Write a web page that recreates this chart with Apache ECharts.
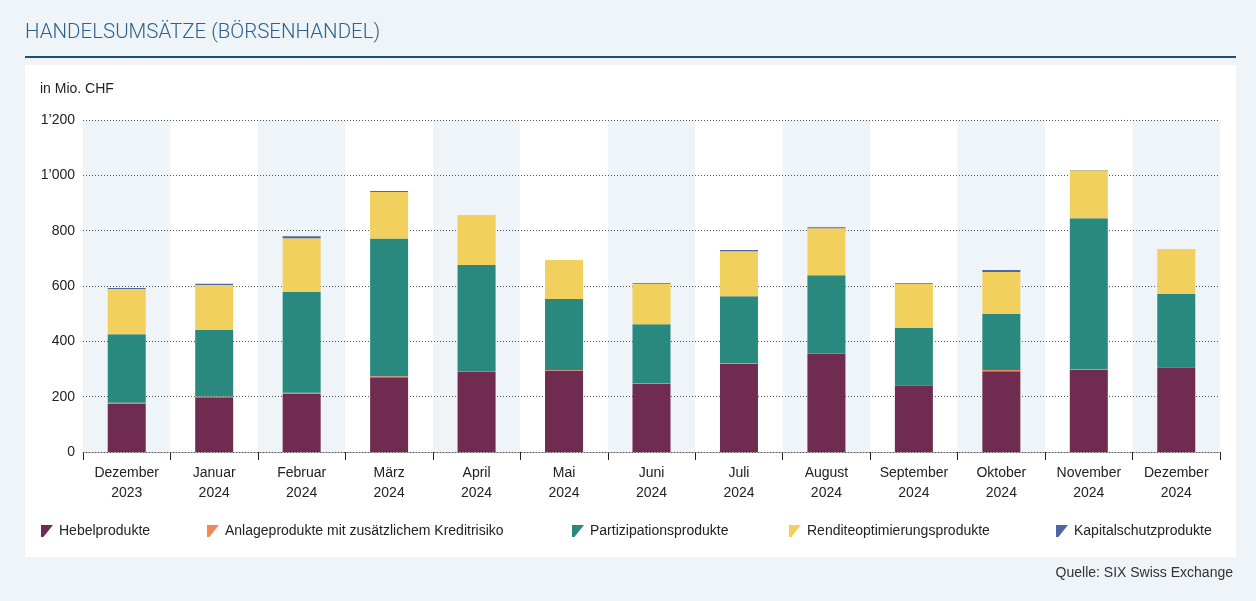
<!DOCTYPE html>
<html>
<head>
<meta charset="utf-8">
<script src="https://cdn.jsdelivr.net/npm/echarts@6/dist/echarts.min.js"></script>
<style>
  html, body { margin: 0; padding: 0; background: #eef4f7; }
  #chart { width: 1256px; height: 601px; }
</style>
</head>
<body>
<div id="chart"></div>
<script>
// Monate
const months = ['Dezember\n2023', 'Januar\n2024', 'Februar\n2024', 'März\n2024', 'April\n2024', 'Mai\n2024',
  'Juni\n2024', 'Juli\n2024', 'August\n2024', 'September\n2024', 'Oktober\n2024', 'November\n2024', 'Dezember\n2024'];

// Umsätze in Mio. CHF (aus dem Bild geschätzt)
const hebel = [175, 198, 210, 270, 291, 295, 248, 318, 354, 241, 292, 296, 306];
const anlage = [3, 3, 4, 4, 1, 1, 1, 3, 1, 1, 4, 3, 1];
const partizipation = [248, 240, 364, 498, 384, 257, 213, 242, 284, 206, 203, 546, 264];
const rendite = [163, 163, 195, 168, 177, 141, 145, 163, 170, 159, 152, 173, 159];
const kapital = [4, 4, 7, 3, 1, 0, 3, 4, 3, 3, 7, 1, 1];

const yTicks = [0, 200, 400, 600, 800, 1000, 1200];

const names = ['Hebelprodukte', 'Anlageprodukte mit zusätzlichem Kreditrisiko', 'Partizipationsprodukte',
  'Renditeoptimierungsprodukte', 'Kapitalschutzprodukte'];
const colors = ['#6f2b50', '#f0895a', '#2a897e', '#f2d05d', '#4d66a5'];
const legendX = [41, 207, 572, 789, 1056];

const font = '"Liberation Sans", Arial, sans-serif';
const icon = 'path://M0,0 L10,0 L2,10 L0,10 Z';

const fmt = v => String(v).replace(/\B(?=(\d{3})+(?!\d))/g, '\u2019');

const chart = echarts.init(document.getElementById('chart'));

const seriesData = [hebel, anlage, partizipation, rendite, kapital];

chart.setOption({
  backgroundColor: '#eef4f7',
  animation: false,
  color: colors,
  graphic: [
    { type: 'rect', left: 25, top: 65, shape: { width: 1211, height: 492 }, style: { fill: '#ffffff' }, z: -10 },
    { type: 'rect', left: 25, top: 56, shape: { width: 1211, height: 2 }, style: { fill: '#1d4f7c' } },
    { type: 'text', left: 25, top: 22, style: { text: 'HANDELSUMSÄTZE (BÖRSENHANDEL)', fill: '#2f6190',
      font: '300 20.5px Roboto, "Liberation Sans", sans-serif' } },
    { type: 'text', left: 40, top: 82, style: { text: 'in Mio. CHF', fill: '#222', font: '14px ' + font } },
    { type: 'text', right: 23, top: 566, style: { text: 'Quelle: SIX Swiss Exchange', fill: '#333', font: '14px ' + font } }
  ],
  legend: names.map((n, i) => ({
    data: [n],
    left: legendX[i],
    top: 524,
    padding: 0,
    icon: icon,
    itemWidth: 12,
    itemHeight: 12,
    selectedMode: false,
    textStyle: { fontFamily: font, fontSize: 14, color: '#222', padding: [0, 0, 0, 1] }
  })),
  grid: { left: 83, right: 36, top: 120, bottom: 149 },
  xAxis: {
    type: 'category',
    data: months,
    z: 0,
    axisLine: { lineStyle: { color: '#aaa', width: 1 } },
    axisTick: { show: true, interval: 0, length: 8, lineStyle: { color: '#222' } },
    axisLabel: { interval: 0, fontFamily: font, fontSize: 14, color: '#222', lineHeight: 20, margin: 11 },
    splitArea: { show: true, interval: 0, areaStyle: { color: ['#eef4f7', '#ffffff'] } }
  },
  yAxis: {
    type: 'value',
    z: 1,
    min: yTicks[0],
    max: yTicks[yTicks.length - 1],
    interval: 200,
    axisLine: { show: false },
    axisTick: { show: false },
    axisLabel: { fontFamily: font, fontSize: 14, color: '#222', margin: 8, formatter: fmt },
    splitLine: { lineStyle: { color: '#555', type: [1, 2], width: 1 } }
  },
  series: names.map((n, i) => ({
    name: n,
    type: 'bar',
    stack: 'total',
    barWidth: 38,
    data: seriesData[i],
    itemStyle: { color: colors[i] }
  }))
});
</script>
</body>
</html>
